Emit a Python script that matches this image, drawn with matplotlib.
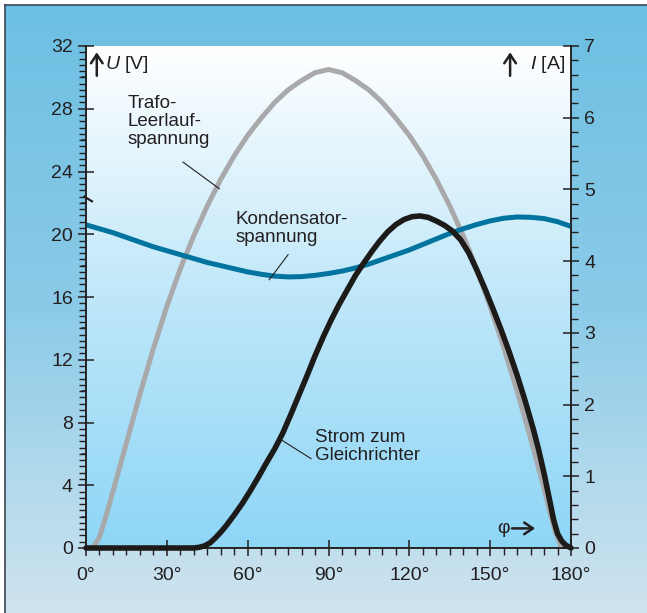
import numpy as np
import matplotlib
matplotlib.use('Agg')
import matplotlib.pyplot as plt
from matplotlib.colors import LinearSegmentedColormap
from matplotlib.lines import Line2D
from matplotlib.ticker import MultipleLocator

plt.rcParams['font.family'] = ['Liberation Sans', 'DejaVu Sans']
plt.rcParams['mathtext.fontset'] = 'custom'
plt.rcParams['mathtext.rm'] = 'Liberation Sans'
plt.rcParams['mathtext.it'] = 'Liberation Sans:italic'

# Trafo-Leerlaufspannung (V)
phi_trafo = [0, 2.5, 5, 7, 10, 15, 20, 25, 30, 35, 40, 45, 50, 55, 60, 65, 70, 75, 80, 85, 90,
             95, 100, 105, 110, 115, 120, 125, 130, 135, 140, 145, 150, 155, 160, 165, 170, 172, 174, 176.5]
u_trafo = [0, 0, 0.7, 1.8, 3.6, 6.7, 9.8, 12.7, 15.4, 17.8, 19.9, 21.8, 23.5, 25.0, 26.3, 27.4, 28.4, 29.2, 29.8, 30.3, 30.5,
           30.3, 29.8, 29.2, 28.4, 27.4, 26.3, 25.0, 23.5, 21.8, 19.9, 17.8, 15.4, 12.8, 10.0, 7.0, 3.8, 2.4, 1.1, 0]

# Kondensatorspannung (V)
phi_kond = [0, 5, 10, 15, 20, 25, 30, 35, 40, 45, 50, 55, 60, 65, 70, 75, 80, 85, 90,
            95, 100, 105, 110, 115, 120, 125, 130, 135, 140, 145, 150, 155, 160, 165, 170, 175, 180]
u_kond = [20.6, 20.35, 20.1, 19.8, 19.5, 19.2, 18.95, 18.7, 18.45, 18.2, 18.0, 17.8, 17.6, 17.45, 17.33, 17.28, 17.3, 17.38, 17.5,
          17.65, 17.85, 18.1, 18.4, 18.7, 19.0, 19.35, 19.7, 20.05, 20.35, 20.62, 20.85, 21.02, 21.1, 21.08, 21.0, 20.8, 20.5]

# Strom zum Gleichrichter (A)
phi_strom = [0, 40, 42, 44, 46, 48, 50, 52, 55, 58, 61, 64, 67, 70, 73, 76, 79, 82, 85, 88, 91, 94, 97,
             100, 103, 106, 109, 112, 115, 118, 121, 124, 127, 130, 133, 136, 139, 142, 145, 148, 151,
             154, 157, 160, 163, 166, 168, 170, 172, 173.5, 175, 176.5, 178, 180]
i_strom = [0, 0, 0.01, 0.03, 0.07, 0.14, 0.22, 0.31, 0.46, 0.62, 0.8, 0.99, 1.19, 1.38, 1.6, 1.86, 2.13, 2.4, 2.68, 2.94, 3.18, 3.4, 3.6,
           3.8, 3.97, 4.13, 4.28, 4.41, 4.51, 4.58, 4.62, 4.63, 4.61, 4.56, 4.5, 4.42, 4.3, 4.12, 3.88, 3.62, 3.34,
           3.05, 2.74, 2.41, 2.05, 1.66, 1.37, 1.04, 0.68, 0.4, 0.2, 0.1, 0.04, 0]

x_ticks = [0, 30, 60, 90, 120, 150, 180]
x_labels = ['0°', '30°', '60°', '90°', '120°', '150°', '180°']

W, H = 647, 613
dark = '#231f20'
fig = plt.figure(figsize=(W / 100, H / 100), dpi=100, facecolor='white')

# outer blue panel
bg = fig.add_axes([5 / W, 0, (W - 5) / W, (H - 5) / H])
bg_cmap = LinearSegmentedColormap.from_list('bg', ['#6cbfe3', '#8ccbe8', '#cfe4ef'])
bg.imshow(np.linspace(0, 1, 256).reshape(-1, 1), cmap=bg_cmap, aspect='auto', extent=[0, 1, 0, 1])
bg.set_axis_off()
fig.add_artist(Line2D([5 / W, 1], [1 - 5 / H, 1 - 5 / H], color='#3b4650', lw=1.2))
fig.add_artist(Line2D([5 / W, 5 / W], [0, 1 - 5 / H], color='#3b4650', lw=1.2))

ax = fig.add_axes([86 / W, 65 / H, 485 / W, 502 / H])
plot_cmap = LinearSegmentedColormap.from_list('pa', ['#8ed6f6', '#bfe7f9', '#ffffff'])
ax.imshow(np.linspace(0, 1, 256).reshape(-1, 1), cmap=plot_cmap, aspect='auto',
          extent=[0, 180, 0, 32], origin='lower', zorder=0)
ax.set_xlim(0, 180)
ax.set_ylim(0, 32)

ax.plot(phi_trafo, u_trafo, color='#a9a9ab', lw=3.6, solid_capstyle='round', solid_joinstyle='round', zorder=2)
ax.plot(phi_kond, u_kond, color='#00749f', lw=3.6, solid_capstyle='butt', solid_joinstyle='round', zorder=3)

ax2 = ax.twinx()
ax2.set_ylim(0, 7)
ax2.plot(phi_strom, i_strom, color='#1d1a1a', lw=4.0, solid_capstyle='round', solid_joinstyle='round',
         zorder=4, clip_on=False)

for a in (ax, ax2):
    a.spines['top'].set_visible(False)
    for s in a.spines.values():
        s.set_color(dark)
        s.set_linewidth(1.1)

ax.set_xticks(x_ticks)
ax.set_xticklabels(x_labels)
ax.xaxis.set_minor_locator(MultipleLocator(5))
ax.set_yticks(range(0, 33, 4))
ax.yaxis.set_minor_locator(MultipleLocator(0.4))
ax2.set_yticks(range(0, 8))
ax2.yaxis.set_minor_locator(MultipleLocator(0.2))

ax.tick_params(axis='both', which='major', direction='inout', length=11, width=1.1, color=dark,
               labelsize=14, labelcolor=dark, pad=4)
ax.tick_params(axis='both', which='minor', direction='out', length=5, width=1.0, color=dark)
ax.tick_params(axis='x', which='major', pad=8)
ax2.tick_params(axis='y', which='major', direction='inout', length=11, width=1.1, color=dark,
                labelsize=14, labelcolor=dark, pad=4)
ax2.tick_params(axis='y', which='minor', direction='out', length=5, width=1.0, color=dark)

# medium ticks every 2 V on the left axis
for v in range(2, 32, 4):
    ax.plot([-1.6, 0], [v, v], color=dark, lw=1.1, clip_on=False, zorder=5)

# small break mark on left axis
ax.plot([-0.6, 2.2], [22.4, 22.1], color=dark, lw=1.6, clip_on=False, zorder=5)

arrow_kw = dict(arrowstyle='->, head_length=0.45, head_width=0.3', color=dark, lw=1.8,
                mutation_scale=14, shrinkA=0, shrinkB=0)

# axis titles
ax.annotate('', xy=(4.0, 31.6), xytext=(4.0, 30.1), arrowprops=arrow_kw)
ax.text(7.0, 30.85, '$U$ [V]', fontsize=14, color=dark, ha='left', va='center')
ax.annotate('', xy=(157.4, 31.6), xytext=(157.4, 30.1), arrowprops=arrow_kw)
ax.text(177.8, 30.85, '$I$ [A]', fontsize=14, color=dark, ha='right', va='center')

# curve labels
ax.text(15.5, 28.9, 'Trafo-\nLeerlauf-\nspannung', fontsize=13.5, color=dark, ha='left', va='top',
        linespacing=1.1)
ax.plot([36, 49.5], [24.6, 22.9], color=dark, lw=0.8, zorder=5)

ax.text(55.5, 21.5, 'Kondensator-\nspannung', fontsize=13.5, color=dark, ha='left', va='top',
        linespacing=1.1)
ax.plot([75, 68], [18.7, 17.1], color=dark, lw=0.8, zorder=5)

ax.text(85, 7.6, 'Strom zum\nGleichrichter', fontsize=13.5, color=dark, ha='left', va='top',
        linespacing=1.1)
ax.plot([83.5, 71.5], [5.7, 7.0], color=dark, lw=0.8, zorder=5)

# phi arrow
ax.text(154.8, 1.25, 'φ', fontsize=14, color=dark, ha='center', va='center')
ax.annotate('', xy=(166.7, 1.25), xytext=(158.1, 1.25), arrowprops=arrow_kw)

fig.savefig('out.png', dpi=100)
